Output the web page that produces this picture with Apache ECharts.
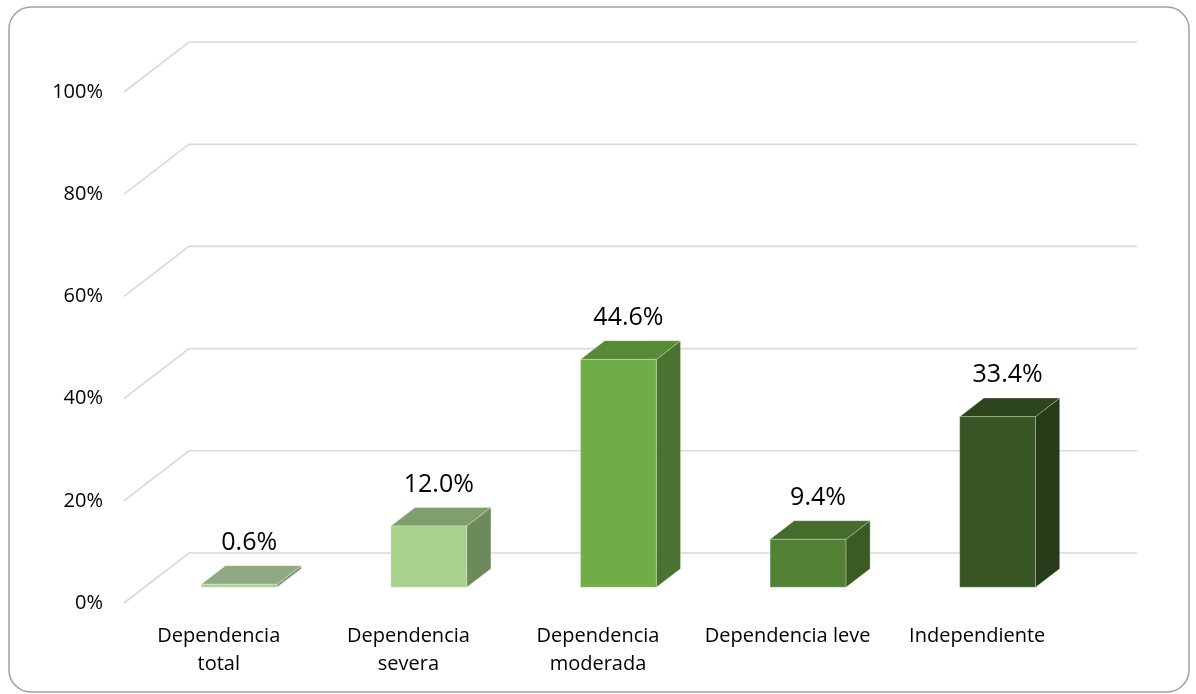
<!DOCTYPE html>
<html>
<head>
<meta charset="utf-8">
<script src="https://cdn.jsdelivr.net/npm/echarts@6/dist/echarts.min.js"></script>
<style>
html,body{margin:0;padding:0;background:#fff;}
#chart{width:1196px;height:694px;}
</style>
</head>
<body>
<div id="chart"></div>
<script>
// ---- data ----
const categories = ['Dependencia\ntotal', 'Dependencia\nsevera', 'Dependencia\nmoderada', 'Dependencia leve', 'Independiente'];
const values = [0.6, 12.0, 44.6, 9.4, 33.4];
const valueLabels = ['0.6%', '12.0%', '44.6%', '9.4%', '33.4%'];
const yTicks = [0, 20, 40, 60, 80, 100];

// ---- styles ----
const frontColors = ['#A9D08E', '#A9D18E', '#70AD47', '#548235', '#375623'];
const topColors = ['#8FAA82', '#80A06B', '#578A37', '#466C2C', '#2C451C'];
const sideColors = ['#7D9A6D', '#6C8A5A', '#4A7230', '#3B5B25', '#263C18'];
const DX = 65, DY = -50;      // full depth vector
const F1 = 0.314, F2 = 0.686; // bar front/back depth fractions
const FONT = '"Open Sans", "Liberation Sans", sans-serif';

const chart = echarts.init(document.getElementById('chart'), null, {renderer: 'canvas'});

function renderGrid(params, api) {
  const cs = params.coordSys;
  const v = api.value(1);
  const p = api.coord([0, v]);
  const xl = cs.x, xr = cs.x + cs.width, y = p[1];
  return {
    type: 'polyline',
    shape: {points: [[xl, y], [xl + DX, y + DY], [xr + DX, y + DY]]},
    style: {stroke: '#D9D9D9', lineWidth: 1.6, fill: null},
    silent: true
  };
}

function renderBar(params, api) {
  const i = api.value(0), v = api.value(1);
  const base = api.coord([i, 0]);
  const top = api.coord([i, v]);
  const band = api.size([1, 0])[0];
  const w = band * 0.4;
  const x0 = base[0] - w / 2 + F1 * DX, x1 = x0 + w;
  const yb = base[1] + F1 * DY, yt = top[1] + F1 * DY;
  const ddx = (F2 - F1) * DX, ddy = (F2 - F1) * DY;
  const idx = params.dataIndex;
  const edge = 'rgba(255,255,255,0.35)';
  return {
    type: 'group',
    children: [
      {type: 'polygon', shape: {points: [[x1, yt], [x1 + ddx, yt + ddy], [x1 + ddx, yb + ddy], [x1, yb]]},
        style: {fill: sideColors[idx], stroke: edge, lineWidth: 0.8}},
      {type: 'polygon', shape: {points: [[x0, yt], [x1, yt], [x1 + ddx, yt + ddy], [x0 + ddx, yt + ddy]]},
        style: {fill: topColors[idx], stroke: edge, lineWidth: 0.8}},
      {type: 'rect', shape: {x: x0, y: yt, width: w, height: Math.max(yb - yt, 0)},
        style: {fill: frontColors[idx], stroke: edge, lineWidth: 0.8}},
      {type: 'text', style: {text: valueLabels[idx], x: base[0] + F1 * DX + 10, y: yt + ddy - 23,
        fill: '#000', font: '25px ' + FONT, align: 'center', verticalAlign: 'middle'}}
    ]
  };
}

chart.setOption({
  animation: false,
  backgroundColor: '#fff',
  graphic: [{
    type: 'rect', shape: {x: 9, y: 7, width: 1180, height: 685, r: 22},
    style: {fill: 'none', stroke: '#A0A0A0', lineWidth: 1.5}, z: -10, silent: true
  }],
  grid: {left: 124, right: 124, top: 92, bottom: 91},
  xAxis: {
    type: 'category', data: categories,
    axisLine: {show: false}, axisTick: {show: false}, splitLine: {show: false},
    axisLabel: {interval: 0, margin: 19, color: '#000', fontFamily: FONT, fontSize: 20, lineHeight: 28}
  },
  yAxis: {
    type: 'value', min: 0, max: 100, interval: 20,
    axisLine: {show: false}, axisTick: {show: false}, splitLine: {show: false},
    axisLabel: {formatter: '{value}%', margin: 21, color: '#000', fontFamily: FONT, fontSize: 20}
  },
  series: [
    {type: 'custom', renderItem: renderGrid, data: yTicks.map(v => [0, v]), clip: false, z: 1, silent: true},
    {type: 'custom', renderItem: renderBar, data: values.map((v, i) => [i, v]), clip: false, z: 2}
  ]
});
</script>
</body>
</html>
